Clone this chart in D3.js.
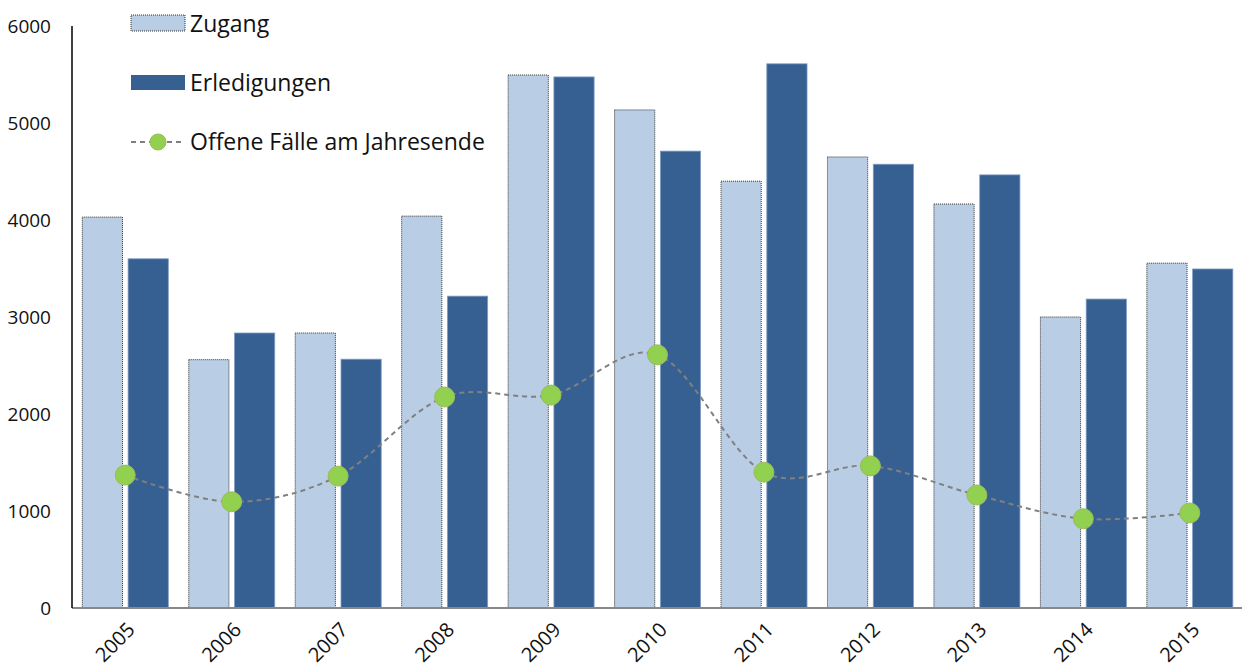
<!DOCTYPE html>
<html><head><meta charset="utf-8">
<script src="https://cdn.jsdelivr.net/npm/d3@7"></script>
<style>body{margin:0;background:#fff}svg{display:block}text{font-family:"Open Sans",sans-serif;fill:#111}</style>
</head><body><svg id="c" width="1242" height="669"></svg>
<script>
const years = ["2005","2006","2007","2008","2009","2010","2011","2012","2013","2014","2015"];
const zugang = [4030,2560,2835,4040,5495,5135,4400,4650,4165,3000,3555];
const erledigungen = [3600,2835,2565,3215,5475,4710,5610,4575,4465,3185,3495];
const offene = [1370,1095,1360,2175,2195,2610,1400,1465,1165,920,980];
const yTicks = [0,1000,2000,3000,4000,5000,6000];
const seriesNames = ["Zugang","Erledigungen","Offene Fälle am Jahresende"];

const svg = d3.select("#c");
const x = d3.scaleBand().domain(years).range([72,1243]).padding(0);
const xi = d3.scaleBand().domain([0,1]).range([10.3,96.3]).paddingInner(0.122).paddingOuter(0);
const y = d3.scaleLinear().domain([0,6000]).range([608,26]);

// y tick labels
svg.append("g").selectAll("text").data(yTicks).join("text")
  .attr("x",51).attr("y",d=>y(d)).attr("dy","0.36em").attr("text-anchor","end")
  .style("font-size","19px").text(d=>d);

// bars
const g = svg.append("g");
g.selectAll("rect.z").data(zugang).join("rect").attr("class","z")
  .attr("x",(d,i)=>x(years[i])+xi(0)).attr("y",d=>y(d))
  .attr("width",xi.bandwidth()).attr("height",d=>y(0)-y(d))
  .attr("fill","#B9CDE5").attr("stroke","#333").attr("stroke-width",1).attr("stroke-dasharray","1,1");
g.selectAll("rect.e").data(erledigungen).join("rect").attr("class","e")
  .attr("x",(d,i)=>x(years[i])+xi(1)).attr("y",d=>y(d))
  .attr("width",xi.bandwidth()).attr("height",d=>y(0)-y(d))
  .attr("fill","#366092").attr("stroke","#7f9cc4").attr("stroke-width",0.8);

// axes lines
svg.append("line").attr("x1",72).attr("x2",1242).attr("y1",y(0)).attr("y2",y(0)).attr("stroke","#888").attr("stroke-width",2);
svg.append("line").attr("x1",72).attr("x2",72).attr("y1",26).attr("y2",y(0)).attr("stroke","#000").attr("stroke-width",1.5);

// line
const line = d3.line().x((d,i)=>x(years[i])+x.bandwidth()/2).y(d=>y(d)).curve(d3.curveCatmullRom.alpha(0));
svg.append("path").datum(offene).attr("d",line).attr("fill","none")
  .attr("stroke","#808080").attr("stroke-width",2).attr("stroke-dasharray","5,4");
svg.append("g").selectAll("circle").data(offene).join("circle")
  .attr("cx",(d,i)=>x(years[i])+x.bandwidth()/2).attr("cy",d=>y(d)).attr("r",10)
  .attr("fill","#92D050").attr("stroke","#9bbb59").attr("stroke-width",1);

// x labels
svg.append("g").selectAll("text").data(years).join("text")
  .attr("transform",d=>`translate(${x(d)+x.bandwidth()/2+6},${626}) rotate(-45)`)
  .attr("text-anchor","end").attr("dy","0.35em").style("font-size","20px").text(d=>d);

// legend
const lg = svg.append("g");
lg.append("rect").attr("x",131).attr("y",15).attr("width",54).attr("height",16)
  .attr("fill","#B9CDE5").attr("stroke","#333").attr("stroke-dasharray","1,1");
lg.append("rect").attr("x",131).attr("y",75).attr("width",54).attr("height",15).attr("fill","#366092");
lg.append("line").attr("x1",131).attr("x2",185).attr("y1",142).attr("y2",142)
  .attr("stroke","#808080").attr("stroke-width",2).attr("stroke-dasharray","5,4");
lg.append("circle").attr("cx",158).attr("cy",142).attr("r",8).attr("fill","#92D050").attr("stroke","#9bbb59");
lg.selectAll("text").data(seriesNames).join("text")
  .attr("x",190).attr("y",(d,i)=>[32,91,150][i]).style("font-size","23px").text(d=>d);
</script></body></html>
